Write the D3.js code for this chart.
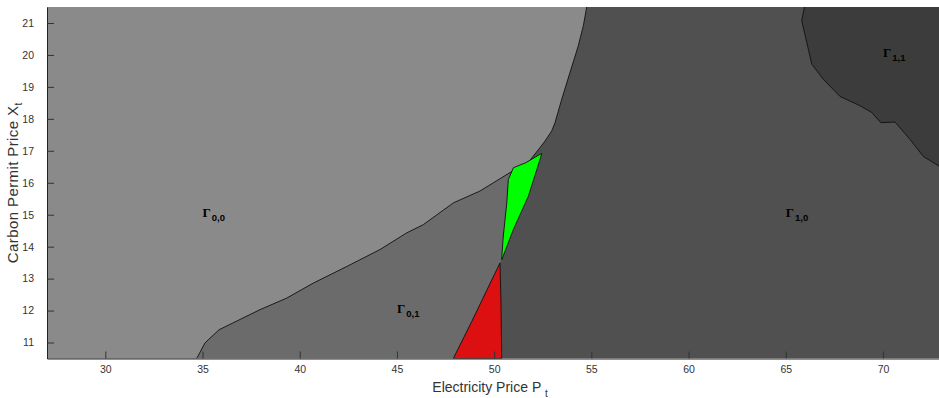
<!DOCTYPE html>
<html>
<head>
<meta charset="utf-8">
<script src="https://cdn.jsdelivr.net/npm/d3@7"></script>
<style>
  body { margin: 0; background: #fff; }
  text { font-family: "Liberation Sans", Arial, sans-serif; }
</style>
</head>
<body>
<svg id="chart" width="939" height="398"></svg>
<script>
// axis ranges and ticks
var xDomain = [27, 73];
var yDomain = [10.5, 21.5];
var xTicks = [30, 35, 40, 45, 50, 55, 60, 65, 70];
var yTicks = [11, 12, 13, 14, 15, 16, 17, 18, 19, 20, 21];

// boundary of Gamma_{0,0} (from top edge down to bottom edge), [P, X]
var gamma00Edge = [
  [54.76, 21.5], [54.59, 20.92], [54.33, 20.29], [53.90, 19.45], [53.48, 18.62],
  [53.13, 17.88], [52.96, 17.62], [52.62, 17.31], [52.36, 17.10], [51.68, 16.58],
  [50.82, 16.32], [49.96, 16.00], [49.27, 15.74], [47.90, 15.37], [46.36, 14.69],
  [45.50, 14.43], [44.13, 13.91], [42.42, 13.38], [40.70, 12.86], [39.33, 12.39],
  [37.96, 12.03], [35.85, 11.40], [35.13, 10.99], [34.70, 10.5]
];

// right side of Gamma_{0,1}, bottom edge upwards
var gamma01Edge = [
  [47.90, 10.5], [48.85, 11.66], [50.30, 13.49], [50.39, 13.59], [50.47, 14.33],
  [50.65, 15.37], [50.73, 16.10], [50.99, 16.47], [51.6, 16.9]
];

// boundary of Gamma_{1,1} (top edge to right edge)
var gamma11Edge = [
  [65.96, 21.5], [65.82, 21.07], [66.08, 20.39], [66.34, 19.71], [66.93, 19.24],
  [67.79, 18.70], [68.82, 18.41], [69.42, 18.20], [69.89, 17.88], [70.62, 17.90],
  [71.39, 17.36], [72.08, 16.82], [72.89, 16.52], [73.0, 16.48]
];

var redRegion = [
  [50.30, 13.49], [48.85, 11.66], [47.90, 10.5], [50.39, 10.5], [50.35, 12.30]
];

var greenRegion = [
  [52.45, 16.92], [51.64, 16.63], [50.99, 16.47], [50.73, 16.10], [50.65, 15.37],
  [50.47, 14.33], [50.39, 13.65], [50.39, 13.59], [50.99, 14.54], [51.76, 15.58],
  [52.36, 16.73]
];

var labelNames = ["0,0", "0,1", "1,0", "1,1"];
var labelP = [35, 45, 65, 70];
var labelX = [15, 12, 15, 20];

var svg = d3.select("#chart");
var padLeft = 47, padTop = 7, plotW = 894.3, plotH = 351.5;

var x = d3.scaleLinear().domain(xDomain).range([padLeft, padLeft + plotW]);
var y = d3.scaleLinear().domain(yDomain).range([padTop + plotH, padTop]);

svg.append("clipPath").attr("id", "plotclip")
   .append("rect").attr("x", padLeft).attr("y", padTop).attr("width", plotW).attr("height", plotH);

var plot = svg.append("g").attr("clip-path", "url(#plotclip)");

var area = d3.line().x(function(d) { return x(d[0]); }).y(function(d) { return y(d[1]); });

// Gamma_{1,0} fills the background
plot.append("rect")
    .attr("x", padLeft).attr("y", padTop).attr("width", plotW).attr("height", plotH)
    .attr("fill", "#505050");

// Gamma_{0,1}: its own edge, closed off to the left under Gamma_{0,0}
var g01 = gamma01Edge.concat([[xDomain[0], 16.9], [xDomain[0], yDomain[0]]]);
plot.append("path").attr("d", area(g01) + "Z").attr("fill", "#6b6b6b");

// Gamma_{0,0}
var g00 = [[xDomain[0], yDomain[1]]].concat(gamma00Edge).concat([[xDomain[0], yDomain[0]]]);
plot.append("path").attr("d", area(g00) + "Z").attr("fill", "#8a8a8a");
plot.append("path").attr("d", area(gamma00Edge))
    .attr("fill", "none").attr("stroke", "#111").attr("stroke-width", 0.9);

// Gamma_{1,1}
var g11 = gamma11Edge.concat([[xDomain[1], yDomain[1]]]);
plot.append("path").attr("d", area(g11) + "Z").attr("fill", "#3c3c3c");
plot.append("path").attr("d", area(gamma11Edge))
    .attr("fill", "none").attr("stroke", "#111").attr("stroke-width", 0.9);

// the red and green pockets
plot.append("path").attr("d", area(redRegion) + "Z")
    .attr("fill", "#dc1010").attr("stroke", "#111").attr("stroke-width", 0.9);
plot.append("path").attr("d", area(greenRegion) + "Z")
    .attr("fill", "#00ff00").attr("stroke", "#111").attr("stroke-width", 0.9);

// region labels
for (var i = 0; i < labelNames.length; i++) {
  var t = plot.append("text")
      .attr("x", x(labelP[i]))
      .attr("y", y(labelX[i]) + 2.5)
      .attr("fill", "#000");
  t.append("tspan").text("\u0393")
   .attr("font-family", "Liberation Serif, Times New Roman, serif")
   .attr("font-weight", "bold").attr("font-size", 13);
  t.append("tspan").text(labelNames[i])
   .attr("dy", 4).attr("dx", 1)
   .attr("font-weight", "bold").attr("font-size", 9.5);
}

// axes, ticks pointing inwards
var xAxis = svg.append("g").attr("transform", "translate(0," + (padTop + plotH) + ")")
    .call(d3.axisBottom(x).tickValues(xTicks).tickSizeInner(-7).tickSizeOuter(0).tickPadding(7.5));
var yAxis = svg.append("g").attr("transform", "translate(" + padLeft + ",0)")
    .call(d3.axisLeft(y).tickValues(yTicks).tickSizeInner(-7).tickSizeOuter(0).tickPadding(13));

[xAxis, yAxis].forEach(function(a) {
  a.select(".domain").attr("stroke", "#222");
  a.selectAll(".tick line").attr("stroke", "#333");
  a.selectAll(".tick text").attr("fill", "#333").attr("font-size", 10.5)
   .attr("font-family", "Liberation Sans, Arial, sans-serif");
});

// axis titles
var xt = svg.append("text").attr("x", 490).attr("y", 392)
    .attr("text-anchor", "middle").attr("font-size", 14).attr("fill", "#333");
xt.append("tspan").text("Electricity Price P ");
xt.append("tspan").text("t").attr("dy", 5).attr("font-size", 10);

var yt = svg.append("text")
    .attr("transform", "translate(17.5," + (padTop + plotH / 2) + ") rotate(-90)")
    .attr("text-anchor", "middle").attr("font-size", 15).attr("letter-spacing", 0.4)
    .attr("fill", "#333");
yt.append("tspan").text("Carbon Permit Price X");
yt.append("tspan").text("t").attr("dy", 4).attr("font-size", 10);
</script>
</body>
</html>
